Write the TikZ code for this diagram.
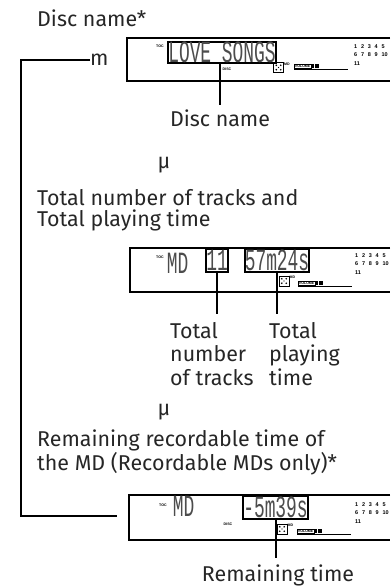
\documentclass[tikz,border=0pt]{standalone}
\usepackage{fontspec}
\setmainfont{Fira Sans}
\newfontfamily\lcdfont{Liberation Mono}
\newfontfamily\tinyfont{Liberation Sans}
\usetikzlibrary{calc}
\newcommand\widesp[1]{{\spaceskip=3.8bp\relax #1}}
\begin{document}
\begin{tikzpicture}[x=1bp,y=-1bp,
  txt/.style={font=\fontsize{21.5}{20.5}\selectfont, inner sep=0pt, text=black!85},
  disp/.style={line width=1.1bp},
  hl/.style={draw, line width=2.4bp, inner sep=0pt},
  conn/.style={line width=2bp},
  lcd/.style={font=\lcdfont\fontsize{31}{31}\selectfont, inner sep=0pt, text=black!70},
  tiny/.style={font=\tinyfont\bfseries\fontsize{3.6}{3.6}\selectfont, inner sep=0pt},
  nums/.style={font=\tinyfont\bfseries\fontsize{5.5}{5.5}\selectfont, inner sep=0pt, anchor=base west},
  trk/.pic={
    \node[nums] (-a) at (0,0) {\widesp{1 2 3 4 5}};
    \node[nums] (-b) at (0,8.5) {\widesp{6 7 8 9 10}};
    \node[nums] (-c) at (0,17) {11};
  },
  mdicon/.pic={
    \draw[line width=0.7bp] (-5,-5) rectangle (5,5);
    \fill (-2.2,-2.2) circle (0.9) (2.2,-2.2) circle (0.9) (-2.2,2.2) circle (0.9) (2.2,2.2) circle (0.9) (0,0) circle (0.7);
    \node[tiny, anchor=north west] (-md) at (5.5,-5) {MD};
  },
  volbar/.pic={
    \node[tiny, draw, line width=0.5bp, inner sep=0.7bp, anchor=south west] (-v) at (0,0) {VOLUME};
    \foreach \i in {0,...,5} \draw[line width=0.5bp] ($(-v.south east)+(1+\i*1.3,0)$) -- ++(0,-4);
    \draw[line width=0.6bp] (0,1) -- (54,1);
  }
]
\path[use as bounding box] (0,0) rectangle (390,587);

% ---------- section 1 ----------
\node[txt, anchor=base west] (h1) at (37,26.5) {Disc name*};
\node[txt, anchor=west] (arrm) at (90,60) {m};
\coordinate (c1) at (21,60);
\coordinate (c2) at (21,516);
\coordinate (brk) at (117,516);
\draw[conn] (arrm.west) -- (c1) -- (c2) -- (brk);

\draw[disp] (390,38) -- (127,38) -- (127,81) -- (390,81);
\node[tiny] (toc1) at (160,46) {TOC};
\node[tiny] (disc1) at (227,69) {DISC};
\node[hl, lcd, minimum width=108bp, minimum height=19bp] (lcd1) at (222,52.5) {\scalebox{0.58}[1]{LOVE SONGS}};
\pic (ic1) at (278.5,67.5) {mdicon};
\pic (vol1) at (294,68.5) {volbar};
\pic (trk1) at (354,48.5) {trk};
\node[txt, anchor=base] (lab1) at (220,127) {Disc name};
\draw[conn, shorten >=5bp] (lcd1.south -| lab1.north) -- (lab1.north);

\node[txt, anchor=base] (mu1) at (164,169) {μ};

% ---------- section 2 ----------
\node[txt, anchor=base west, align=left] (h2) at (37,226) {Total number of tracks and\\Total playing time};

\draw[disp] (390,248) -- (130,248) -- (130,292) -- (390,292);
\node[tiny] (toc2) at (160,257) {TOC};
\node[lcd] (md2) at (177.5,263) {\scalebox{0.58}[1]{MD}};
\node[hl, lcd, minimum width=21bp, minimum height=23bp] (box11) at (217,260.5) {\scalebox{0.58}[1]{11}};
\node[hl, lcd, minimum width=64bp, minimum height=23bp] (boxt) at (277,260.5) {\scalebox{0.58}[1]{57m24s}};
\pic (ic2) at (284,281) {mdicon};
\pic (vol2) at (298,285) {volbar};
\pic (trk2) at (355,257) {trk};
\node[txt, anchor=base west, align=left, font=\fontsize{21.5}{23.5}\selectfont] (lab2) at (170,385) {Total\\number\\of tracks};
\node[txt, anchor=base west, align=left, font=\fontsize{21.5}{23.5}\selectfont] (lab3) at (269,385) {Total\\playing\\time};
\draw[conn, shorten >=8bp] (box11.south) -- (box11.south |- lab2.north);
\draw[conn, shorten >=8bp] (boxt.south) -- (boxt.south |- lab3.north);

\node[txt, anchor=base] (mu2) at (164,415) {μ};

% ---------- section 3 ----------
\node[txt, anchor=base west, align=left] (h3) at (37,470.5) {Remaining recordable time of\\the MD (Recordable MDs only)*};

\draw[disp] (390,495) -- (129,495) -- (129,540) -- (390,540);
\node[tiny] (toc3) at (163,505) {TOC};
\node[lcd] (md3) at (183.5,506) {\scalebox{0.58}[1]{MD}};
\node[tiny] (disc3) at (228,524) {DISC};
\node[hl, lcd, minimum width=65bp, minimum height=23bp] (boxr) at (275.5,507.5) {\scalebox{0.58}[1]{-5m39s}};
\pic (ic3) at (282,529) {mdicon};
\pic (vol3) at (297,533) {volbar};
\pic (trk3) at (355,506) {trk};
\node[txt, anchor=base] (lab4) at (278,581.5) {Remaining time};
\draw[conn, shorten >=7bp] (boxr.south) -- (boxr.south |- lab4.north);
\end{tikzpicture}
\end{document}
